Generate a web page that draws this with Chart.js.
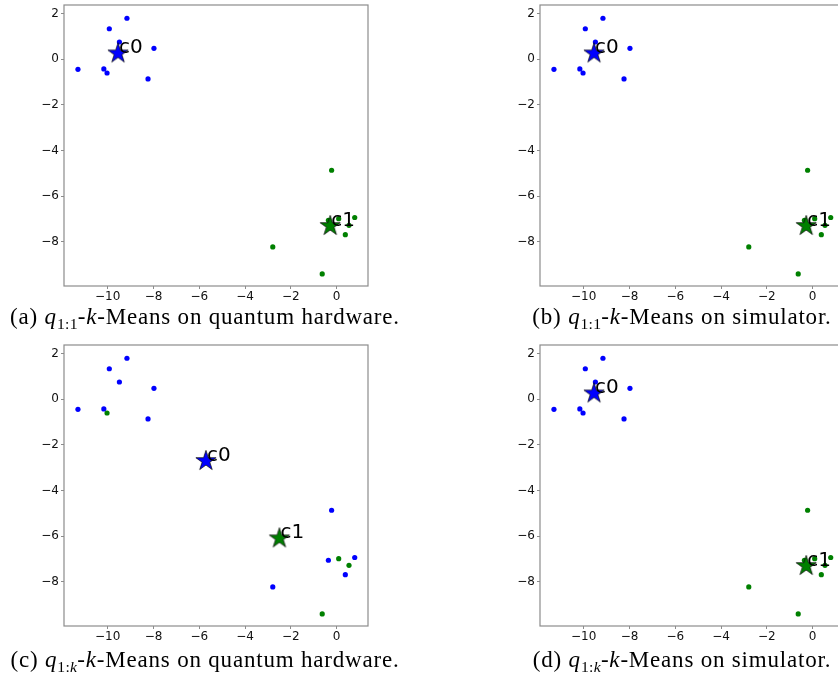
<!DOCTYPE html>
<html>
<head>
<meta charset="utf-8">
<script src="https://cdn.jsdelivr.net/npm/chart.js@4.4.0/dist/chart.umd.min.js"></script>
<style>
    html, body { margin: 0; padding: 0; background: #fff; overflow: hidden; }
    body { width: 838px; height: 679px; position: relative; }
    .panel { position: absolute; width: 420px; height: 310px; }
    .cap { position: absolute; width: 420px; text-align: center; white-space: nowrap;
           font-family: "Liberation Serif", serif; font-size: 23px; letter-spacing: 0.8px;
           line-height: 26px; color: #000; }
    .cap sub { font-size: 0.68em; line-height: 0; vertical-align: -0.3em; letter-spacing: 0.3px; }
</style>
</head>
<body>
<div class="panel" style="left:0px;top:0px"><canvas id="chartA" width="420" height="310"></canvas></div>
<div class="panel" style="left:476px;top:0px"><canvas id="chartB" width="420" height="310"></canvas></div>
<div class="panel" style="left:0px;top:340px"><canvas id="chartC" width="420" height="310"></canvas></div>
<div class="panel" style="left:476px;top:340px"><canvas id="chartD" width="420" height="310"></canvas></div>

<div class="cap" style="left:-5px;top:304px">(a) <i>q</i><sub>1:1</sub>-<i>k</i>-Means on quantum hardware.</div>
<div class="cap" style="left:472px;top:304px">(b) <i>q</i><sub>1:1</sub>-<i>k</i>-Means on simulator.</div>
<div class="cap" style="left:-5px;top:647px">(c) <i>q</i><sub>1:<i>k</i></sub>-<i>k</i>-Means on quantum hardware.</div>
<div class="cap" style="left:472px;top:647px">(d) <i>q</i><sub>1:<i>k</i></sub>-<i>k</i>-Means on simulator.</div>

<script type="text/javascript">
    // axis ticks and ranges
    const xTicks = [-10, -8, -6, -4, -2, 0];
    const yTicks = [-8, -6, -4, -2, 0, 2];
    const xRange = [-11.91, 1.37];
    const yRange = [-9.93, 2.38];

    // the 16 data points (same in every panel)
    const pointX = [-11.30, -9.93, -9.16, -9.49, -7.98, -10.17, -10.03, -8.24,
                    -0.22, -0.36, 0.09, 0.79, 0.54, 0.38, -2.79, -0.63];
    const pointY = [-0.44, 1.34, 1.80, 0.76, 0.48, -0.42, -0.60, -0.86,
                    -4.86, -7.05, -6.98, -6.93, -7.27, -7.68, -8.22, -9.40];

    // cluster assignment of each point
    const labelsOneToOne = [0, 0, 0, 0, 0, 0, 0, 0, 1, 1, 1, 1, 1, 1, 1, 1];
    const labelsOneToK   = [0, 0, 0, 0, 0, 0, 1, 0, 0, 0, 1, 0, 1, 0, 0, 1];

    // centroids
    const centroidNames = ['c0', 'c1'];
    const centroidXOneToOne = [-9.55, -0.28];
    const centroidYOneToOne = [0.26, -7.30];
    const centroidXOneToK = [-5.71, -2.50];
    const centroidYOneToK = [-2.70, -6.09];

    const clusterColors = ['#0000ff', '#008000'];

    Chart.defaults.font.family = '"DejaVu Sans", sans-serif';
    Chart.defaults.font.size = 12;
    Chart.defaults.color = '#111';

    function starImage(color) {
        const c = document.createElement('canvas');
        c.width = 28; c.height = 28;
        const g = c.getContext('2d');
        const R = 10.6, r = R * 0.382;
        g.beginPath();
        for (let i = 0; i < 10; i++) {
            const rad = i % 2 === 0 ? R : r;
            const a = -Math.PI / 2 + i * Math.PI / 5;
            const px = 14 + rad * Math.cos(a), py = 14 + rad * Math.sin(a);
            if (i === 0) g.moveTo(px, py); else g.lineTo(px, py);
        }
        g.closePath();
        g.fillStyle = color;
        g.fill();
        g.lineWidth = 0.7;
        g.strokeStyle = '#000';
        g.stroke();
        return c;
    }

    const frame = {
        id: 'frame',
        afterDraw(chart) {
            const a = chart.chartArea, ctx = chart.ctx;
            ctx.save();
            ctx.strokeStyle = '#8c8c8c';
            ctx.lineWidth = 1.2;
            ctx.strokeRect(a.left, a.top, a.right - a.left, a.bottom - a.top);
            ctx.restore();
        }
    };

    const centroidText = {
        id: 'centroidText',
        afterDatasetsDraw(chart, args, opts) {
            const ctx = chart.ctx, x = chart.scales.x, y = chart.scales.y;
            ctx.save();
            ctx.font = '20px "DejaVu Sans"';
            ctx.fillStyle = '#000';
            ctx.textAlign = 'left';
            ctx.textBaseline = 'alphabetic';
            opts.names.forEach((n, i) => {
                ctx.fillText(n, x.getPixelForValue(opts.xs[i]) + 1, y.getPixelForValue(opts.ys[i]));
            });
            ctx.restore();
        }
    };

    function fmt(v) {
        return v < 0 ? '\u2212' + Math.abs(v) : String(v);
    }

    function drawPanel(id, labels, cx, cy) {
        const datasets = [];
        [0, 1].forEach(k => {
            const pts = [];
            pointX.forEach((x, i) => { if (labels[i] === k) pts.push({x: x, y: pointY[i]}); });
            datasets.push({
                data: pts,
                pointRadius: 2.6,
                pointHoverRadius: 0,
                backgroundColor: clusterColors[k],
                borderWidth: 0,
                order: 3 - k
            });
        });
        [0, 1].forEach(k => {
            datasets.push({
                data: [{x: cx[k], y: cy[k]}],
                pointStyle: starImage(clusterColors[k]),
                pointRadius: 1,
                pointHoverRadius: 0,
                borderWidth: 0,
                order: 1 - k
            });
        });

        new Chart(document.getElementById(id), {
            type: 'scatter',
            data: { datasets: datasets },
            plugins: [frame, centroidText],
            options: {
                responsive: false,
                animation: false,
                events: [],
                layout: { padding: { left: 0, top: 5, right: 52, bottom: 0 } },
                scales: {
                    x: {
                        min: xRange[0], max: xRange[1],
                        afterBuildTicks: s => { s.ticks = xTicks.map(v => ({value: v})); },
                        afterFit: s => { s.height = 24; s.paddingLeft = 0; s.paddingRight = 0; },
                        ticks: { callback: fmt, padding: 1, maxRotation: 0 },
                        grid: { display: true, drawOnChartArea: false, drawTicks: true, tickLength: 3, color: '#8c8c8c' },
                        border: { display: false }
                    },
                    y: {
                        min: yRange[0], max: yRange[1],
                        afterBuildTicks: s => { s.ticks = yTicks.map(v => ({value: v})); },
                        afterFit: s => { s.width = 64; s.paddingTop = 0; s.paddingBottom = 0; },
                        ticks: { callback: fmt, padding: 2 },
                        grid: { display: true, drawOnChartArea: false, drawTicks: true, tickLength: 3, color: '#8c8c8c' },
                        border: { display: false }
                    }
                },
                plugins: {
                    legend: { display: false },
                    tooltip: { enabled: false },
                    centroidText: { names: centroidNames, xs: cx, ys: cy }
                }
            }
        });
    }

    drawPanel('chartA', labelsOneToOne, centroidXOneToOne, centroidYOneToOne);
    drawPanel('chartB', labelsOneToOne, centroidXOneToOne, centroidYOneToOne);
    drawPanel('chartC', labelsOneToK, centroidXOneToK, centroidYOneToK);
    drawPanel('chartD', labelsOneToOne, centroidXOneToOne, centroidYOneToOne);
</script>
</body>
</html>
